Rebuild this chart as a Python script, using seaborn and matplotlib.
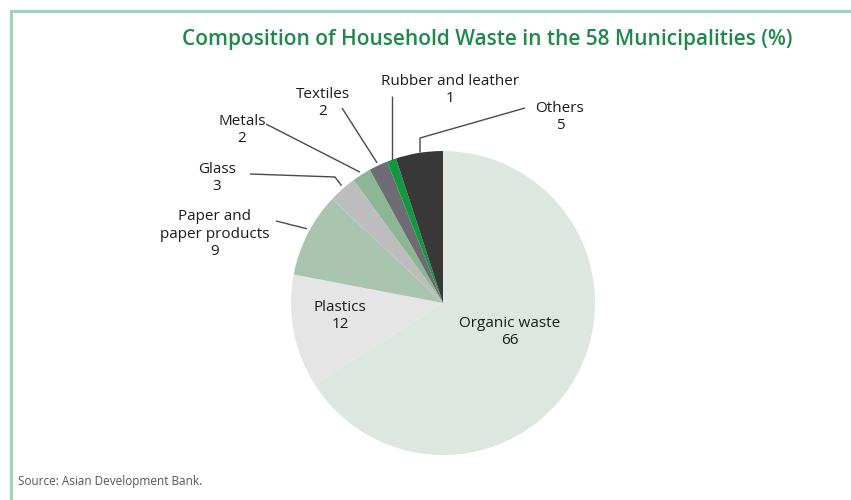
import numpy as np
import matplotlib
matplotlib.use("Agg")
import matplotlib.pyplot as plt
import seaborn as sns

# Household waste composition (%), clockwise from 12 o'clock
categories = ["Organic waste", "Plastics", "Paper and\npaper products", "Glass",
              "Metals", "Textiles", "Rubber and leather", "Others"]
shares = [66, 12, 9, 3, 2, 2, 1, 5]
colors = ["#dde6df", "#e5e5e5", "#a9c5b1", "#bdbdbd",
          "#8db697", "#6d6c72", "#13973f", "#383838"]

title = "Composition of Household Waste in the 58 Municipalities (%)"
source = "Source: Asian Development Bank."

sns.set_theme(style="white")
plt.rcParams["font.family"] = ["Open Sans", "DejaVu Sans"]

W, H = 851, 500
fig = plt.figure(figsize=(W / 100, H / 100), dpi=100)
fig.patch.set_facecolor("white")

# light green frame on the top and left edges
frame = fig.add_axes([0, 0, 1, 1], zorder=-1)
frame.set_xlim(0, W)
frame.set_ylim(H, 0)
frame.axis("off")
frame.plot([11, 11, W], [H, 11, 11], color="#9fd3bc", lw=2.2, solid_joinstyle="miter")

# pie axes: centre (443, 303) px, radius 152 px
cx, cy, r = 443, 303, 152
ax = fig.add_axes([(cx - r) / W, (H - cy - r) / H, 2 * r / W, 2 * r / H])

wedges, _ = ax.pie(shares, colors=colors, startangle=90, counterclock=False,
                   radius=1, wedgeprops=dict(linewidth=0))
ax.set_xlim(-1, 1)
ax.set_ylim(-1, 1)
ax.axis("off")
for w in wedges:
    w.set_clip_on(False)

def px(x, y):
    """pixel position -> pie data coordinates"""
    return (x - cx) / r, (cy - y) / r

def mid_point(i, rad=1.0, frac=0.5):
    w = wedges[i]
    a = np.deg2rad(w.theta1 + (w.theta2 - w.theta1) * frac)
    return rad * np.cos(a), rad * np.sin(a)

labels = [f"{c}\n{v}" for c, v in zip(categories, shares)]
txt_kw = dict(ha="center", va="center", fontsize=11, color="#1c1c1c",
              linespacing=1.2, clip_on=False)

# labels inside the pie
ax.text(*px(510, 332), labels[0], **txt_kw)
ax.text(*px(340, 316), labels[1], **txt_kw)

# outside labels: (text position, leader start, elbow points, anchor fraction)
outer = {
    2: (px(215, 234), [px(276, 221)], 0.45),
    3: (px(217, 178), [px(250, 174), px(335, 177)], 0.45),
    4: (px(242, 130), [px(266, 124)], 0.5),
    5: (px(323, 103), [px(342, 108)], 0.5),
    6: (px(450, 90), [px(392, 96)], 0.5),
    7: (px(560, 117), [px(525, 108), px(420, 138)], 0.45),
}
for i, (tpos, path, frac) in outer.items():
    ax.text(*tpos, labels[i], **txt_kw)
    end = mid_point(i, rad=1.02, frac=frac)
    if i in (6, 7):
        end = (path[-1][0], mid_point(i, rad=1.0, frac=frac)[1])
    pts = path + [end]
    ax.plot([p[0] for p in pts], [p[1] for p in pts], color="#4a4a4a",
            lw=1.0, clip_on=False, solid_capstyle="butt")

fig.text(487 / W, 1 - 40 / H, title, ha="center", va="center",
         fontsize=15, color="#1d8a4a", fontweight="semibold")
fig.text(18 / W, 1 - 481 / H, source, ha="left", va="center",
         fontsize=8.5, color="#555555")

fig.savefig("out.png", dpi=100, facecolor="white")
